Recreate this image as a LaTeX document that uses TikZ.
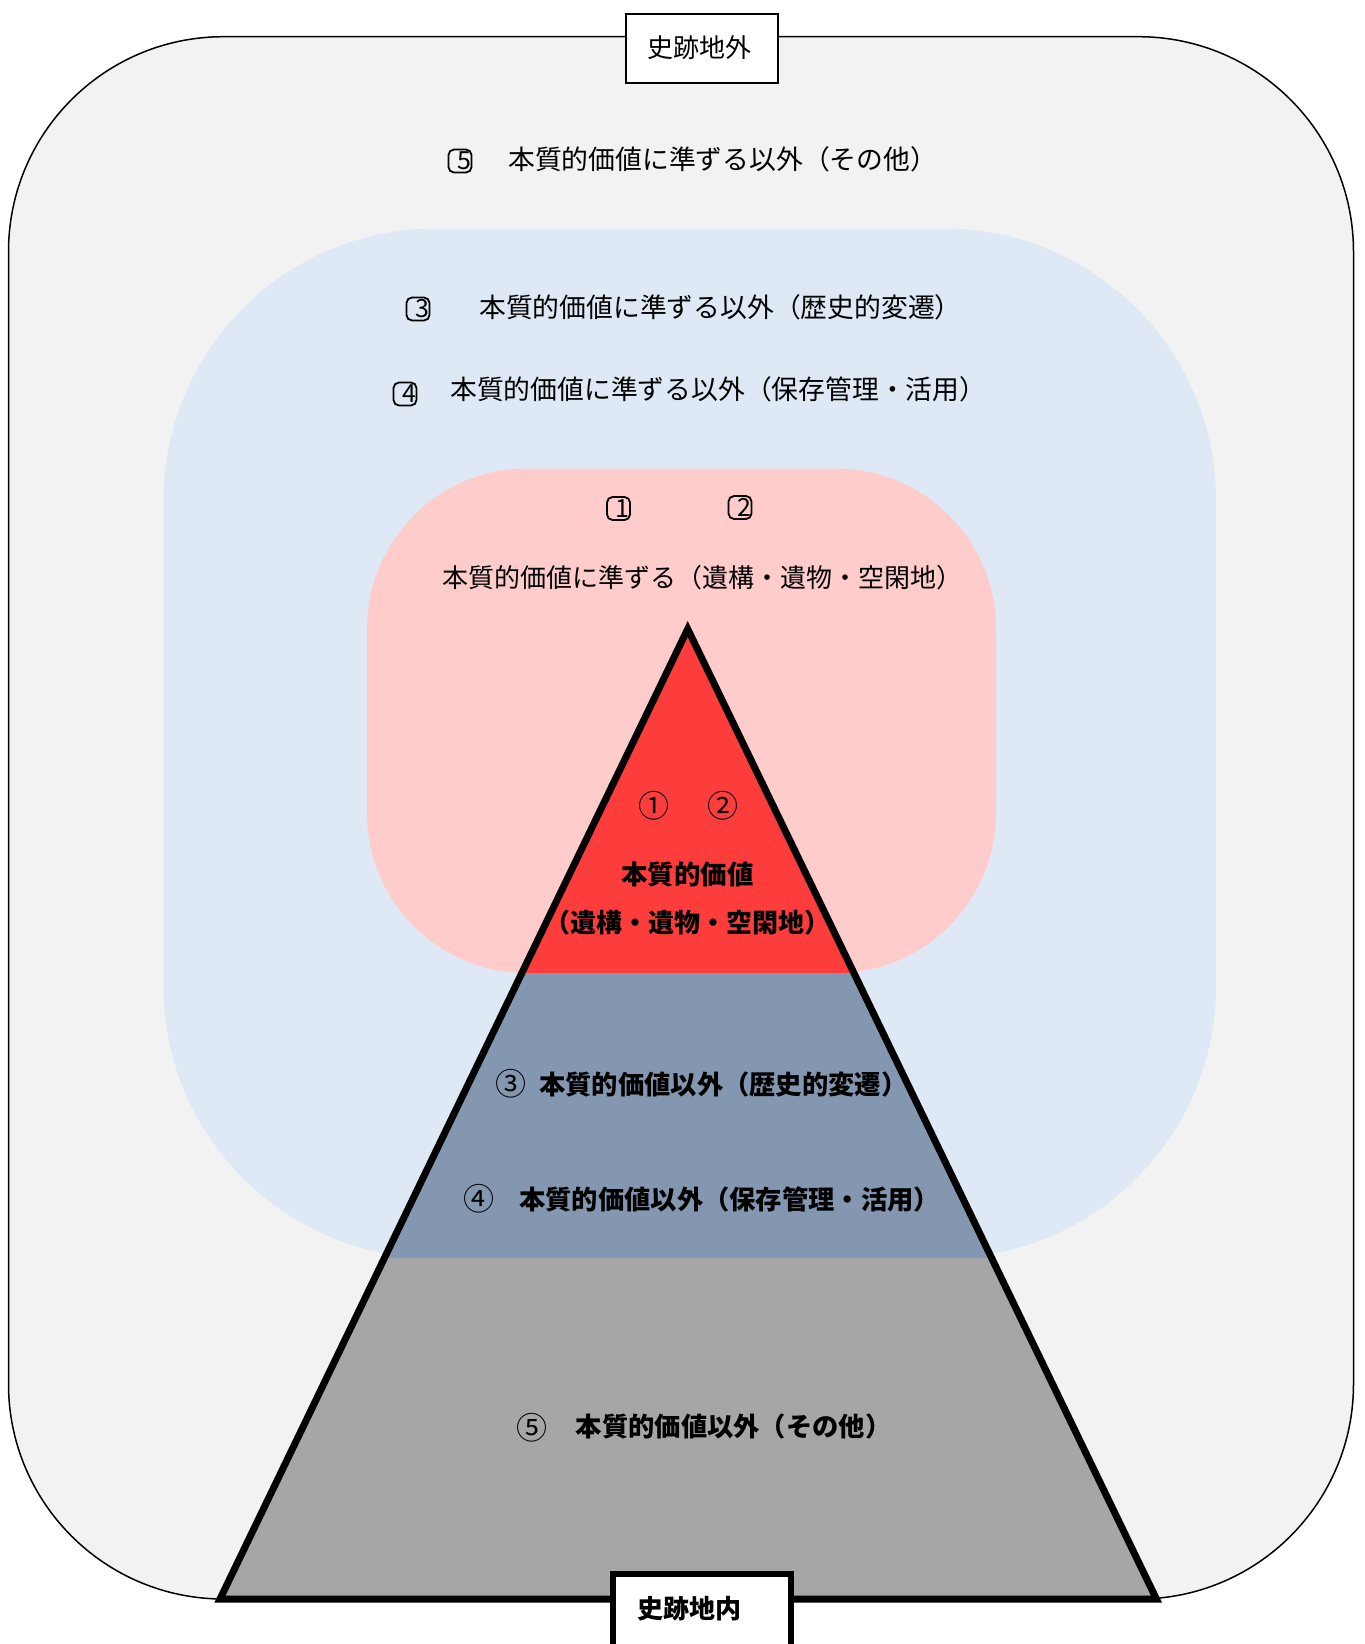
\documentclass[tikz,border=0pt]{standalone}
\usepackage{fontspec}
\setmainfont{Noto Sans CJK JP}
\definecolor{outerbg}{HTML}{F2F2F2}
\definecolor{bluebg}{HTML}{DEE9F5}
\definecolor{pinkbg}{HTML}{FFCCCC}
\definecolor{redband}{HTML}{FC3D3B}
\definecolor{slateband}{HTML}{8497B0}
\definecolor{grayband}{HTML}{A6A6A6}
\begin{document}
\begin{tikzpicture}[x=1pt,y=-1pt,
  every node/.style={font=\fontsize{26}{31}\selectfont, inner sep=0pt},
  lbl/.style={anchor=west, font=\fontsize{26.8}{31}\selectfont},
  blbl/.style={anchor=west, font=\fontsize{26.3}{31}\selectfont\bfseries},
  bxbox/.style={draw, line width=1.8pt, rounded corners=5.5pt, minimum width=23pt, minimum height=23pt},
  bxdig/.style={font=\fontsize{25}{28}\selectfont},
  circ/.style={font=\fontsize{31}{34}\selectfont}]
\useasboundingbox (0,0) rectangle (1365,1644);
\fill[white] (0,0) rectangle (1365,1644);
% outer area
\draw[fill=outerbg, line width=1.5pt, rounded corners=215pt] (8.5,36.7) rectangle (1353.5,1599);
% blue area
\fill[bluebg, rounded corners=272pt] (163.5,228.5) rectangle (1216,1258);
% pink area
\fill[pinkbg, rounded corners=160pt] (367,468.6) rectangle (996,973);
% pyramid
\coordinate (A) at (687.7,629);
\coordinate (BL) at (220,1599);
\coordinate (BR) at (1156.4,1599);
\begin{scope}
  \clip (A) -- (BL) -- (BR) -- cycle;
  \fill[redband] (0,0) rectangle (1365,973);
  \fill[slateband] (0,973) rectangle (1365,1258);
  \fill[grayband] (0,1258) rectangle (1365,1644);
\end{scope}
\draw[line width=7pt, line join=miter] (A) -- (BL) -- (BR) -- cycle;
% title boxes
\node[draw, line width=2pt, fill=white, minimum width=152pt, minimum height=69pt] (outside) at (702,48) {};
\node (outsidet) at (699,48) {史跡地外};
\node[draw, line width=6pt, fill=white, minimum width=178pt, minimum height=76pt] (inside) at (702,1611.5) {};
\node[font=\fontsize{26}{31}\selectfont\bfseries] (insidet) at (689,1609) {史跡地内};
% outer labels
\node[bxbox] (b5) at (460,161) {};
\node[bxdig] (d5) at ([xshift=4pt]b5.center) {5};
\node[lbl] (t5) at (508,159) {本質的価値に準ずる以外（その他）};
\node[bxbox] (b3) at (418,309) {};
\node[bxdig] (d3) at ([xshift=4pt]b3.center) {3};
\node[lbl] (t3) at (479,307) {本質的価値に準ずる以外（歴史的変遷）};
\node[bxbox] (b4) at (405,394) {};
\node[bxdig] (d4) at ([xshift=4pt]b4.center) {4};
\node[lbl] (t4) at (450,389) {本質的価値に準ずる以外（保存管理・活用）};
\node[bxbox] (b1) at (618.5,508.5) {};
\node[bxdig] (d1) at ([xshift=4pt]b1.center) {1};
\node[bxbox] (b2) at (740,507.5) {};
\node[bxdig] (d2) at ([xshift=4pt]b2.center) {2};
\node (t12) at (702.5,578) {本質的価値に準ずる（遺構・遺物・空閑地）};
% pyramid labels
\node[circ] (c1) at (654,806) {①};
\node[circ] (c2) at (723,806) {②};
\node[font=\fontsize{26.5}{31}\selectfont\bfseries] (p1) at (687.7,874) {本質的価値};
\node[font=\fontsize{26}{31}\selectfont\bfseries] (p1b) at (687.7,922.6) {（遺構・遺物・空閑地）};
\node[circ] (c3) at (510.6,1084) {③};
\node[blbl] (p3) at (539,1084) {本質的価値以外（歴史的変遷）};
\node[circ] (c4) at (479,1199) {④};
\node[blbl] (p4) at (519,1199) {本質的価値以外（保存管理・活用）};
\node[circ] (c5) at (531.5,1428) {⑤};
\node[blbl] (p5) at (575.6,1426) {本質的価値以外（その他）};
\end{tikzpicture}
\end{document}
